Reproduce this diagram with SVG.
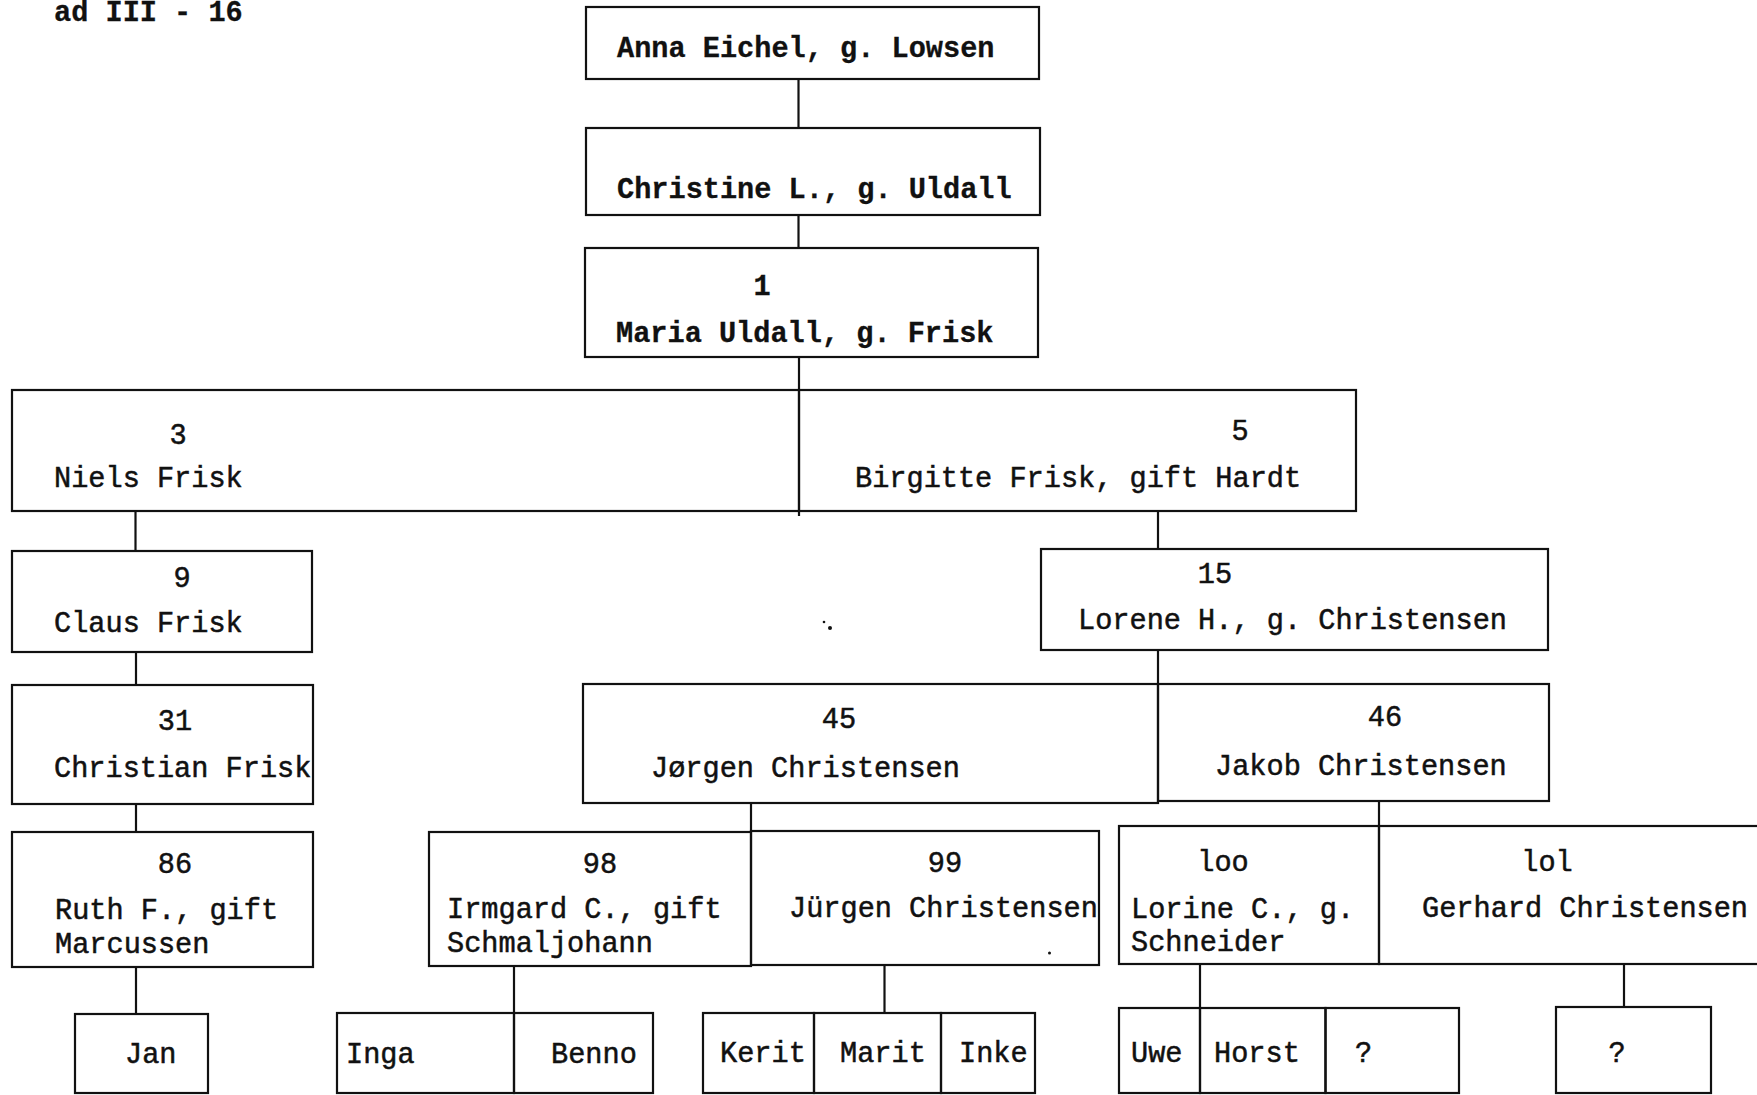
<svg xmlns="http://www.w3.org/2000/svg" width="1757" height="1095" viewBox="0 0 1757 1095">
<style>
.b{fill:none;stroke:#111;stroke-width:2.2}
.c line{stroke:#111;stroke-width:2.2}
text{font-family:"Liberation Mono","DejaVu Sans Mono",monospace;font-size:28.6px;fill:#111;stroke:#111;stroke-width:0.5}
.h{font-weight:bold;stroke-width:0.3}
.m{text-anchor:middle}
</style>
<rect width="1757" height="1095" fill="#fff"/>
<text class="h" x="54" y="21">ad III - 16</text>
<g class="c" id="connectors">
<line x1="798.5" y1="79" x2="798.5" y2="128"/>
<line x1="798.5" y1="215" x2="798.5" y2="248"/>
<line x1="799" y1="357" x2="799" y2="390"/>
<line x1="799" y1="511" x2="799" y2="516"/>
<line x1="135.5" y1="511" x2="135.5" y2="551"/>
<line x1="1158" y1="511" x2="1158" y2="549"/>
<line x1="136" y1="652" x2="136" y2="685"/>
<line x1="1158" y1="650" x2="1158" y2="684"/>
<line x1="136" y1="804" x2="136" y2="832"/>
<line x1="751" y1="803" x2="751" y2="831"/>
<line x1="1379" y1="801" x2="1379" y2="826"/>
<line x1="136" y1="967" x2="136" y2="1014"/>
<line x1="514" y1="966" x2="514" y2="1013"/>
<line x1="884.5" y1="965" x2="884.5" y2="1013"/>
<line x1="1200" y1="964" x2="1200" y2="1008"/>
<line x1="1624" y1="964" x2="1624" y2="1007"/>
</g>
<g id="anna"><rect class="b" x="586" y="7" width="453" height="72"/><text class="h" x="617" y="57">Anna Eichel, g. Lowsen</text></g>
<g id="christine"><rect class="b" x="586" y="128" width="454" height="87"/><text class="h" x="617" y="198">Christine L., g. Uldall</text></g>
<g id="maria"><rect class="b" x="585" y="248" width="453" height="109"/><text class="h m" x="762" y="295">1</text><text class="h" x="616" y="342">Maria Uldall, g. Frisk</text></g>
<g id="niels"><rect class="b" x="12" y="390" width="787" height="121"/><text class="m" x="178" y="444">3</text><text x="54" y="487">Niels Frisk</text></g>
<g id="birgitte"><rect class="b" x="799" y="390" width="557" height="121"/><text class="m" x="1240" y="440">5</text><text x="855" y="487">Birgitte Frisk, gift Hardt</text></g>
<g id="claus"><rect class="b" x="12" y="551" width="300" height="101"/><text class="m" x="182" y="587">9</text><text x="54" y="632">Claus Frisk</text></g>
<g id="specks"><circle cx="824" cy="622" r="1.3" fill="#111"/><circle cx="830" cy="628" r="2" fill="#111"/><circle cx="1049.5" cy="953" r="1.5" fill="#111"/></g>
<g id="lorene"><rect class="b" x="1041" y="549" width="507" height="101"/><text class="m" x="1215" y="583">15</text><text x="1078" y="629">Lorene H., g. Christensen</text></g>
<g id="christian"><rect class="b" x="12" y="685" width="301" height="119"/><text class="m" x="175" y="730">31</text><text x="54" y="777">Christian Frisk</text></g>
<g id="jorgen"><rect class="b" x="583" y="684" width="575" height="119"/><text class="m" x="839" y="728">45</text><text x="651" y="777">Jørgen Christensen</text></g>
<g id="jakob"><rect class="b" x="1158" y="684" width="391" height="117"/><text class="m" x="1385" y="726">46</text><text x="1215" y="775">Jakob Christensen</text></g>
<g id="ruth"><rect class="b" x="12" y="832" width="301" height="135"/><text class="m" x="175" y="873">86</text><text x="55" y="919">Ruth F., gift</text><text x="55" y="953">Marcussen</text></g>
<g id="irmgard"><rect class="b" x="429" y="832" width="322" height="134"/><text class="m" x="600" y="873">98</text><text x="447" y="918">Irmgard C., gift</text><text x="447" y="952">Schmaljohann</text></g>
<g id="jurgen"><rect class="b" x="751" y="831" width="348" height="134"/><text class="m" x="945" y="872">99</text><text x="789" y="917">Jürgen Christensen</text></g>
<g id="lorine"><rect class="b" x="1119" y="826" width="260" height="138"/><text class="m" x="1223" y="871">loo</text><text x="1131" y="918">Lorine C., g.</text><text x="1131" y="951">Schneider</text></g>
<g id="gerhard"><rect class="b" x="1379" y="826" width="390" height="138"/><text class="m" x="1547" y="871">lol</text><text x="1422" y="917">Gerhard Christensen</text></g>
<g id="jan"><rect class="b" x="75" y="1014" width="133" height="79"/><text x="125" y="1063">Jan</text></g>
<g id="inga"><rect class="b" x="337" y="1013" width="177" height="80"/><text x="346" y="1063">Inga</text></g>
<g id="benno"><rect class="b" x="514" y="1013" width="139" height="80"/><text x="551" y="1063">Benno</text></g>
<g id="kerit"><rect class="b" x="703" y="1013" width="111" height="80"/><text x="720" y="1062">Kerit</text></g>
<g id="marit"><rect class="b" x="814" y="1013" width="127" height="80"/><text x="840" y="1062">Marit</text></g>
<g id="inke"><rect class="b" x="941" y="1013" width="94" height="80"/><text x="959" y="1062">Inke</text></g>
<g id="uwe"><rect class="b" x="1119" y="1008" width="81" height="85"/><text x="1131" y="1062">Uwe</text></g>
<g id="horst"><rect class="b" x="1200" y="1008" width="125.5" height="85"/><text x="1214" y="1062">Horst</text></g>
<g id="unknown1"><rect class="b" x="1325.5" y="1008" width="133.5" height="85"/><text x="1355" y="1062">?</text></g>
<g id="unknown2"><rect class="b" x="1556" y="1007" width="155" height="86"/><text class="m" x="1617" y="1062">?</text></g>
</svg>
